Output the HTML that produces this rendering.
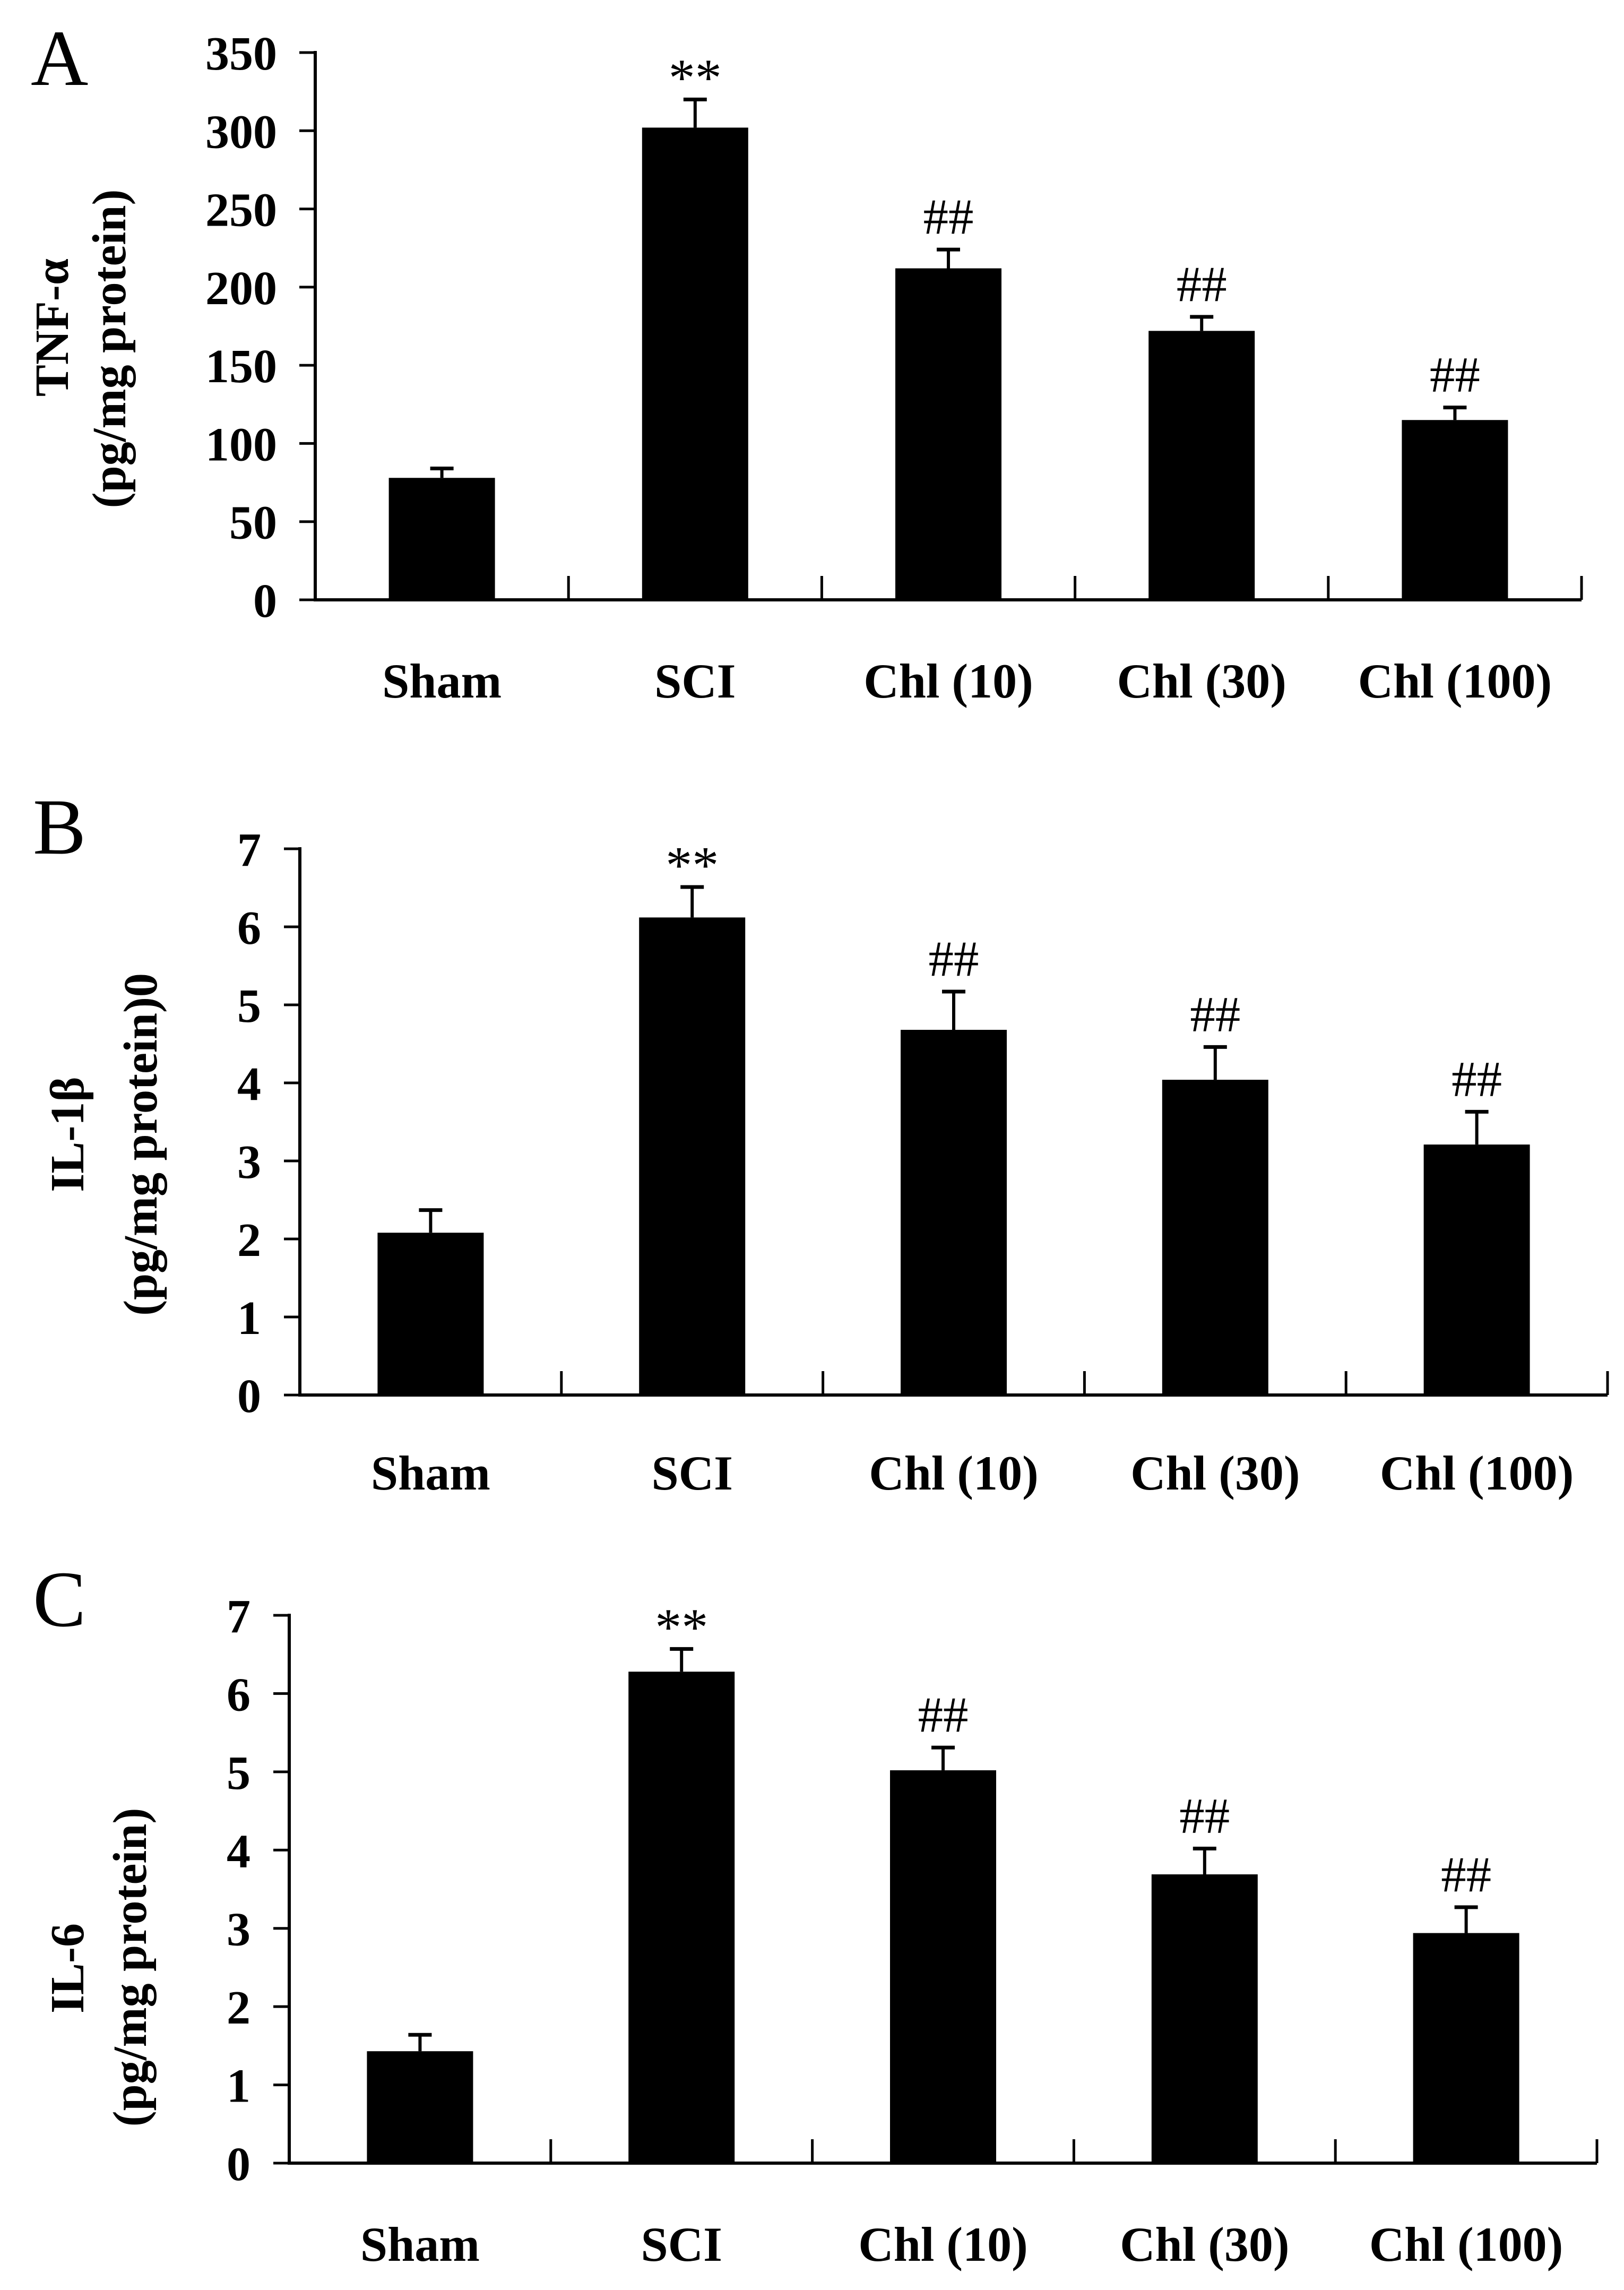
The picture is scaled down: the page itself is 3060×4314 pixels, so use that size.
<!DOCTYPE html>
<html><head><meta charset="utf-8"><style>
html,body{margin:0;padding:0;background:#fff;}
svg{display:block;}
text{font-family:"Liberation Serif","DejaVu Serif",serif;fill:#000;}
</style></head><body>
<svg id="fig" width="3060" height="4314" viewBox="0 0 3060 4314" xmlns="http://www.w3.org/2000/svg"></svg>
<script>
const categories = ["Sham","SCI","Chl (10)","Chl (30)","Chl (100)"];
const tnfValues = [78, 302, 212, 172, 115];
const tnfErrors = [6, 18, 12, 9, 8];
const tnfTicks = [0,50,100,150,200,250,300,350];
const il1bValues = [2.08, 6.12, 4.68, 4.04, 3.21];
const il1bErrors = [0.29, 0.39, 0.49, 0.42, 0.42];
const il1bTicks = [0,1,2,3,4,5,6,7];
const il6Values = [1.43, 6.28, 5.02, 3.69, 2.94];
const il6Errors = [0.21, 0.29, 0.29, 0.33, 0.33];
const il6Ticks = [0,1,2,3,4,5,6,7];
const tnfMarks = ["", "**", "##", "##", "##"];
const il1bMarks = ["", "**", "##", "##", "##"];
const il6Marks = ["", "**", "##", "##", "##"];

const NS = "http://www.w3.org/2000/svg";
const svg = document.getElementById("fig");
function mk(tag, attrs, parent){
  const e = document.createElementNS(NS, tag);
  for (const k in attrs) e.setAttribute(k, attrs[k]);
  (parent||svg).appendChild(e);
  return e;
}

function panel(cfg){
  const g = mk("g", {});
  
  
  const {x0,x1,yTop,yZero,max} = cfg;
  const yScale = v => yZero - (v/max)*(yZero-yTop);
  const gw = (x1-x0)/categories.length;
  const xc = i => x0 + gw*(i+0.5);
  const bw = 200;

  const lab = mk("text", {x: cfg.labelX, y: cfg.labelY, "font-size":150}, g);
  lab.textContent = cfg.letter;
  
  

  // bars + error bars
  cfg.values.forEach((v,i)=>{
    const top = yScale(v);
    const r = mk("rect", {x: xc(i)-bw/2, y: top, width: bw, height: yZero-top, fill:"#000"}, g);
    
    
    const et = yScale(v + cfg.errors[i]);
    const ln = mk("line", {x1: xc(i), x2: xc(i), y1: top, y2: et, stroke:"#000", "stroke-width":6}, g);
    
    
    const cap = mk("line", {x1: xc(i)-22, x2: xc(i)+22, y1: et, y2: et, stroke:"#000", "stroke-width":7}, g);
    
    
    const m = cfg.marks[i];
    if (m){
      const t = mk("text", {x: xc(i), y: m==="**" ? et-8 : et-30, "font-size": m==="**"?100:95, "text-anchor":"middle"}, g);
      t.textContent = m;
      
      
    }
  });

  // axes
  const ya = mk("line", {x1:x0, x2:x0, y1:yTop-3, y2:yZero+3, stroke:"#000", "stroke-width":6}, g);
  
  
  const xa = mk("line", {x1:x0-3, x2:x1, y1:yZero, y2:yZero, stroke:"#000", "stroke-width":6}, g);
  
  
  for (let i=1;i<=categories.length;i++){
    const tx = x0 + gw*i;
    const t = mk("line", {x1:tx, x2:tx, y1:yZero, y2:yZero-45, stroke:"#000", "stroke-width":5}, g);
    
    
  }
  cfg.ticks.forEach(v=>{
    const y = yScale(v);
    const t = mk("line", {x1:x0-30, x2:x0, y1:y, y2:y, stroke:"#000", "stroke-width":5}, g);
    
    
    const tl = mk("text", {x: cfg.tickRight, y: y+32, "font-size":90, "font-weight":"bold", "text-anchor":"end"}, g);
    tl.textContent = v;
    
    
  });
  categories.forEach((c,i)=>{
    const t = mk("text", {x: xc(i), y: cfg.catY, "font-size":92, "font-weight":"bold", "text-anchor":"middle"}, g);
    t.textContent = c;
    
    
  });
  // y title
  const t1 = mk("text", {transform:`translate(${cfg.t1x},${cfg.t1y}) rotate(-90)`, "font-size":90, "font-weight":"bold", "text-anchor":"middle"}, g);
  t1.textContent = cfg.title1;
  
  
  const t2 = mk("text", {transform:`translate(${cfg.t2x},${cfg.t2y}) rotate(-90)`, "font-size":90, "font-weight":"bold", "text-anchor":"middle"}, g);
  t2.textContent = cfg.title2;
  
  
}

panel({id:"tnf", letter:"A", labelX:58, labelY:160, x0:594, x1:2980, yTop:99, yZero:1130, max:350,
  values:tnfValues, errors:tnfErrors, ticks:tnfTicks, marks:tnfMarks, tickRight:522, catY:1314,
  title1:"TNF-\u03B1", t1x:128, t1y:617, title2:"(pg/mg protein)", t2x:236, t2y:657});
panel({id:"il1b", letter:"B", labelX:62, labelY:1608, x0:565, x1:3029, yTop:1599, yZero:2628, max:7,
  values:il1bValues, errors:il1bErrors, ticks:il1bTicks, marks:il1bMarks, tickRight:492, catY:2806,
  title1:"IL-1\u03B2", t1x:157, t1y:2137, title2:"(pg/mg protein)0", t2x:295, t2y:2156});
panel({id:"il6", letter:"C", labelX:62, labelY:3063, x0:545, x1:3009, yTop:3043, yZero:4075, max:7,
  values:il6Values, errors:il6Errors, ticks:il6Ticks, marks:il6Marks, tickRight:472, catY:4259,
  title1:"IL-6", t1x:157, t1y:3708, title2:"(pg/mg protein)", t2x:275, t2y:3706});
</script>
</body></html>
